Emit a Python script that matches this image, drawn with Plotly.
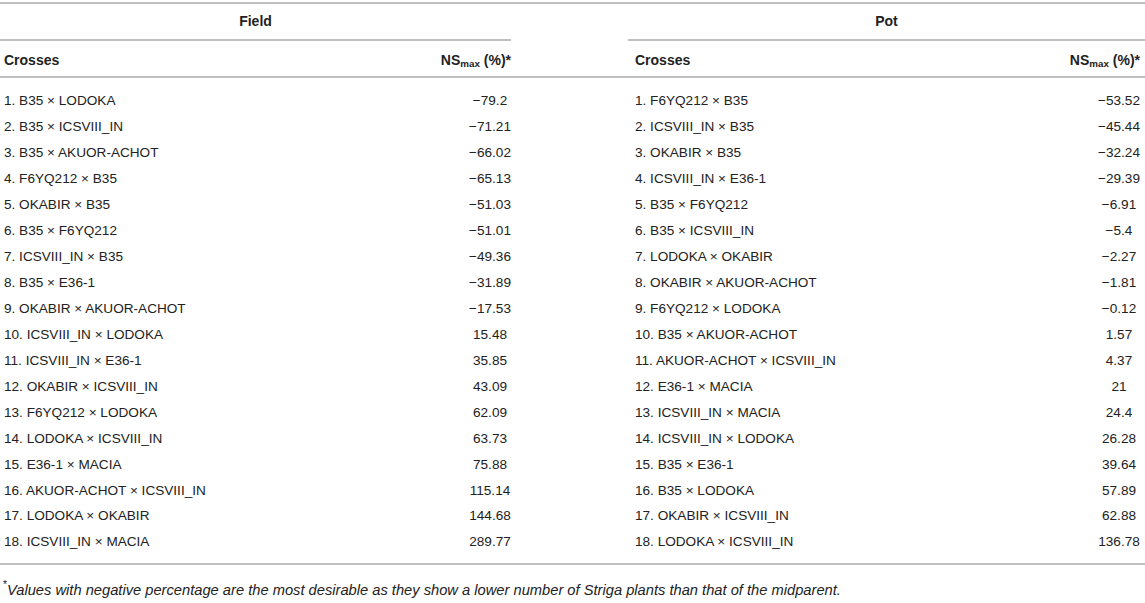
import plotly.graph_objects as go

# ---------------- data ----------------
field_crosses = [
    "B35 × LODOKA", "B35 × ICSVIII_IN", "B35 × AKUOR-ACHOT", "F6YQ212 × B35",
    "OKABIR × B35", "B35 × F6YQ212", "ICSVIII_IN × B35", "B35 × E36-1",
    "OKABIR × AKUOR-ACHOT", "ICSVIII_IN × LODOKA", "ICSVIII_IN × E36-1",
    "OKABIR × ICSVIII_IN", "F6YQ212 × LODOKA", "LODOKA × ICSVIII_IN",
    "E36-1 × MACIA", "AKUOR-ACHOT × ICSVIII_IN", "LODOKA × OKABIR",
    "ICSVIII_IN × MACIA",
]
field_values = [-79.2, -71.21, -66.02, -65.13, -51.03, -51.01, -49.36, -31.89,
                -17.53, 15.48, 35.85, 43.09, 62.09, 63.73, 75.88, 115.14,
                144.68, 289.77]

pot_crosses = [
    "F6YQ212 × B35", "ICSVIII_IN × B35", "OKABIR × B35", "ICSVIII_IN × E36-1",
    "B35 × F6YQ212", "B35 × ICSVIII_IN", "LODOKA × OKABIR",
    "OKABIR × AKUOR-ACHOT", "F6YQ212 × LODOKA", "B35 × AKUOR-ACHOT",
    "AKUOR-ACHOT × ICSVIII_IN", "E36-1 × MACIA", "ICSVIII_IN × MACIA",
    "ICSVIII_IN × LODOKA", "B35 × E36-1", "B35 × LODOKA",
    "OKABIR × ICSVIII_IN", "LODOKA × ICSVIII_IN",
]
pot_values = [-53.52, -45.44, -32.24, -29.39, -6.91, -5.4, -2.27, -1.81, -0.12,
              1.57, 4.37, 21, 24.4, 26.28, 39.64, 57.89, 62.88, 136.78]

group_labels = ["Field", "Pot"]
col_labels = ["Crosses", "NS<sub>max</sub> (%)*"]
footnote = ("<sup>*</sup><i>Values with negative percentage are the most desirable "
            "as they show a lower number of Striga plants than that of the midparent.</i>")

# ---------------- helpers ----------------
def fmt(v):
    return f"{v:g}".replace("-", "\u2212")

rows = list(range(len(field_crosses)))
TXT = "#222222"
LINE = "#aaaaaa"
FONT = "Liberation Sans, Arial, Helvetica, sans-serif"
BODY = 13.6
HEAD = 14

fig = go.Figure()

groups = [
    dict(name=group_labels[0], crosses=field_crosses, values=field_values,
         x0=0, x1=511, xl=4, xv=490, xh=511),
    dict(name=group_labels[1], crosses=pot_crosses, values=pot_values,
         x0=628, x1=1145, xl=635, xv=1119, xh=1140),
]

def txt(x, y, t, pos, size):
    return go.Scatter(x=x, y=y, text=t, mode="text", textposition=pos,
                      cliponaxis=False,
                      textfont=dict(family=FONT, size=size, color=TXT),
                      hoverinfo="skip")

for g in groups:
    labels = [f"{i + 1}. {c}" for i, c in enumerate(g["crosses"])]
    fig.add_trace(txt([g["xl"]] * len(labels), rows, labels, "middle right", BODY))
    fig.add_trace(txt([g["xv"]] * len(labels), rows,
                      [fmt(v) for v in g["values"]], "middle center", BODY))
    fig.add_trace(txt([(g["x0"] + g["x1"]) / 2], [-3.05],
                      [f"<b>{g['name']}</b>"], "middle center", HEAD))
    fig.add_trace(txt([g["xl"]], [-1.58], [f"<b>{col_labels[0]}</b>"],
                      "middle right", HEAD))
    fig.add_trace(txt([g["xh"]], [-1.58], [f"<b>{col_labels[1]}</b>"],
                      "middle left", HEAD))
    fig.add_shape(type="line", xref="x", yref="y", x0=g["x0"], x1=g["x1"],
                  y0=-2.39, y1=-2.39, line=dict(color=LINE, width=1.5))

for yy in [-3.82, -0.964, 17.81]:
    fig.add_shape(type="line", xref="x", yref="y", x0=0, x1=1145, y0=yy, y1=yy,
                  line=dict(color=LINE, width=1.5))

fig.add_trace(txt([3], [18.85], [footnote], "middle right", 14.7))

fig.update_layout(
    width=1145, height=603, margin=dict(l=0, r=0, t=0, b=0),
    paper_bgcolor="white", plot_bgcolor="white", showlegend=False,
    xaxis=dict(range=[0, 1145], visible=False, fixedrange=True),
    yaxis=dict(range=[19.313, -3.932], visible=False, fixedrange=True),
)

fig.write_html(
    "out.html",
    config={"displayModeBar": False},
    post_script="document.body.style.margin='0';document.body.style.overflow='hidden';",
)
